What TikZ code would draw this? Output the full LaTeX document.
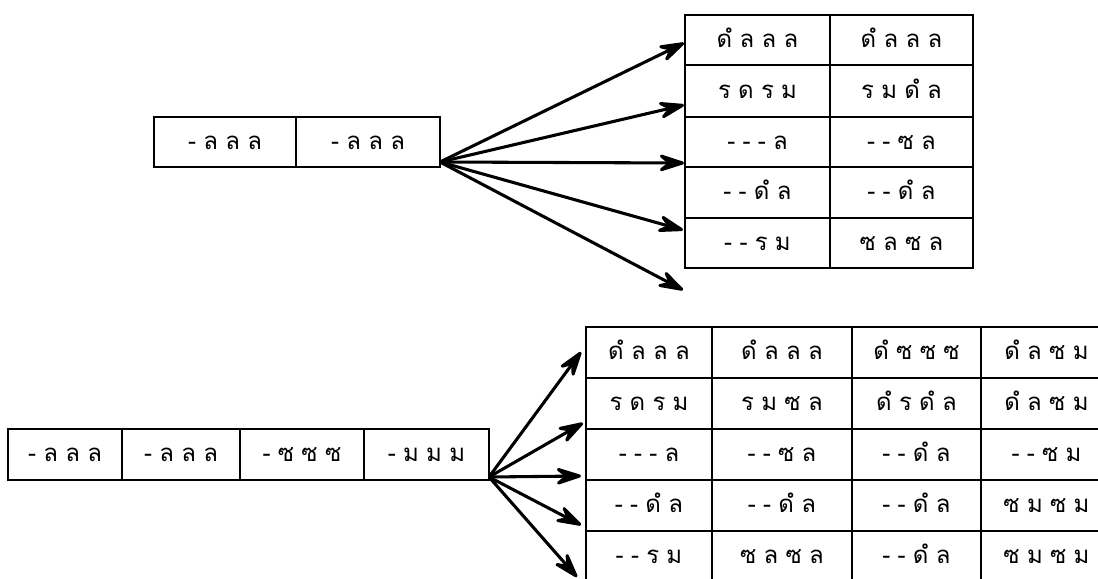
\documentclass[tikz,border=0pt]{standalone}
\usepackage{fontspec}
\newfontfamily\thaifont[Script=Thai, WordSpace=0.9]{Loma}
\usetikzlibrary{arrows.meta}
\tikzset{
  cell/.style={draw, line width=1.5pt, rectangle, inner sep=0pt,
    text height=12pt, text depth=1pt,
    font=\thaifont\fontsize{18}{22}\selectfont},
  fan/.style={line width=2.3pt,
    -{Stealth[length=25pt, width=16pt, inset=10pt, round]}}
}
\newcommand\cellbox[6]{%
  \node[cell, minimum width={(#4-#2)*0.75pt}, minimum height={(#5-#3)*0.75pt}]
    (#1) at ({(#2+#4)/2},{(#3+#5)/2}) {#6};}
\begin{document}
\begin{tikzpicture}[x=0.75pt, y=-0.75pt]
\useasboundingbox (0,0) rectangle (1098,578);
\clip (0,0) rectangle (1098,578);
% top-left source table
\cellbox{tl1}{154}{117}{296}{167}{- ล ล ล}
\cellbox{tl2}{296}{117}{440}{167}{- ล ล ล}
% top-right table
\cellbox{ta1}{685}{15}{830}{65}{ดํ ล ล ล}
\cellbox{ta2}{830}{15}{973}{65}{ดํ ล ล ล}
\cellbox{tb1}{685}{65}{830}{117}{ร ด ร ม}
\cellbox{tb2}{830}{65}{973}{117}{ร ม ดํ ล}
\cellbox{tc1}{685}{117}{830}{167}{- - - ล}
\cellbox{tc2}{830}{117}{973}{167}{- - ซ ล}
\cellbox{td1}{685}{167}{830}{218}{- - ดํ ล}
\cellbox{td2}{830}{167}{973}{218}{- - ดํ ล}
\cellbox{te1}{685}{218}{830}{268}{- - ร ม}
\cellbox{te2}{830}{218}{973}{268}{ซ ล ซ ล}
% bottom-left source table
\cellbox{bl1}{8}{429}{122}{480}{- ล ล ล}
\cellbox{bl2}{122}{429}{240}{480}{- ล ล ล}
\cellbox{bl3}{240}{429}{364}{480}{- ซ ซ ซ}
\cellbox{bl4}{364}{429}{489}{480}{- ม ม ม}
% bottom-right table
\cellbox{ba1}{586}{327}{712}{378}{ดํ ล ล ล}
\cellbox{ba2}{712}{327}{852}{378}{ดํ ล ล ล}
\cellbox{ba3}{852}{327}{981}{378}{ดํ ซ ซ ซ}
\cellbox{ba4}{981}{327}{1112}{378}{ดํ ล ซ ม}
\cellbox{bb1}{586}{378}{712}{429}{ร ด ร ม}
\cellbox{bb2}{712}{378}{852}{429}{ร ม ซ ล}
\cellbox{bb3}{852}{378}{981}{429}{ดํ ร ดํ ล}
\cellbox{bb4}{981}{378}{1112}{429}{ดํ ล ซ ม}
\cellbox{bc1}{586}{429}{712}{480}{- - - ล}
\cellbox{bc2}{712}{429}{852}{480}{- - ซ ล}
\cellbox{bc3}{852}{429}{981}{480}{- - ดํ ล}
\cellbox{bc4}{981}{429}{1112}{480}{- - ซ ม}
\cellbox{bd1}{586}{480}{712}{531}{- - ดํ ล}
\cellbox{bd2}{712}{480}{852}{531}{- - ดํ ล}
\cellbox{bd3}{852}{480}{981}{531}{- - ดํ ล}
\cellbox{bd4}{981}{480}{1112}{531}{ซ ม ซ ม}
\cellbox{be1}{586}{531}{712}{582}{- - ร ม}
\cellbox{be2}{712}{531}{852}{582}{ซ ล ซ ล}
\cellbox{be3}{852}{531}{981}{582}{- - ดํ ล}
\cellbox{be4}{981}{531}{1112}{582}{ซ ม ซ ม}
% arrow coordinates
\coordinate (ts) at (440,162);
\coordinate (tt1) at (684,43);
\coordinate (tt2) at (684,105);
\coordinate (tt3) at (684,163);
\coordinate (tt4) at (683,230);
\coordinate (tt5) at (683,290);
\coordinate (bs) at (489,477);
\coordinate (bt1) at (581,352);
\coordinate (bt2) at (583,423);
\coordinate (bt3) at (581,476);
\coordinate (bt4) at (581,525);
\coordinate (bt5) at (577,577);
\foreach \i in {1,...,5} {
  \draw[fan] (ts) -- (tt\i);
  \draw[fan] (bs) -- (bt\i);
}
\end{tikzpicture}
\end{document}
